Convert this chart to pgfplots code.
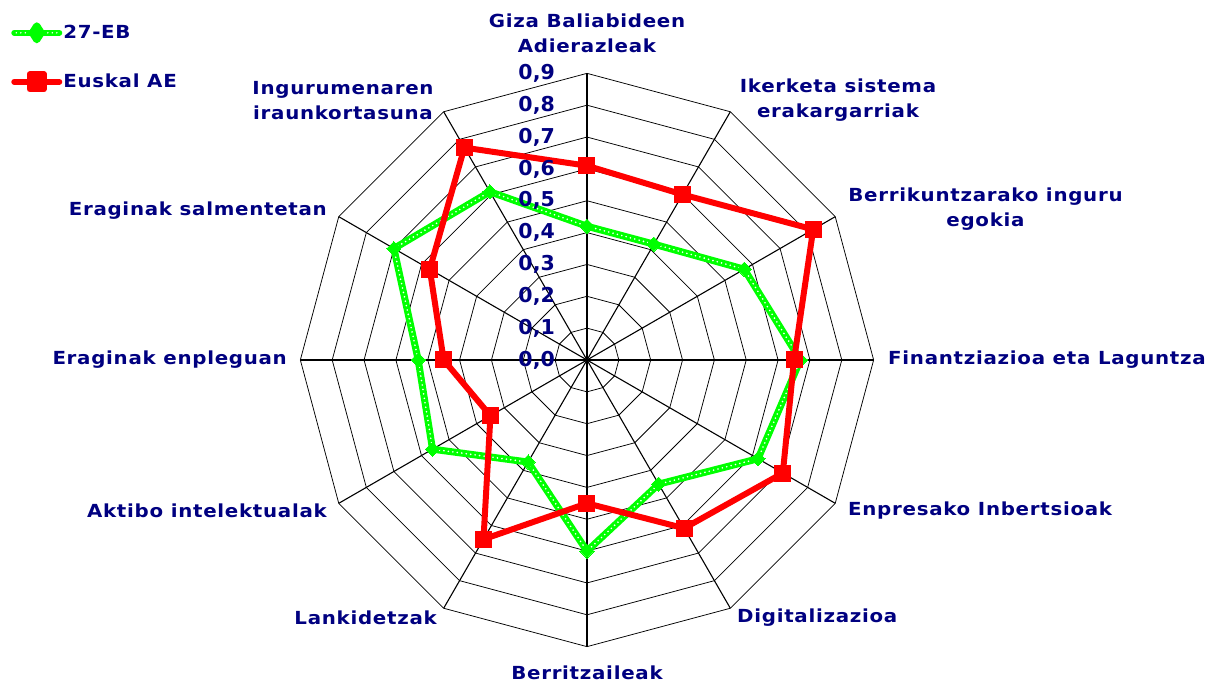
\documentclass[border=0pt]{standalone}
\usepackage{fontspec}
\setmainfont{DejaVu Sans}
\newfontfamily\verd[FakeStretch=1.1, LetterSpace=4]{DejaVu Sans}
\usepackage{pgfplots}
\pgfplotsset{compat=1.18}
\usepgfplotslibrary{polar}
\definecolor{navy}{HTML}{000080}
\definecolor{egreen}{HTML}{00FF00}
\definecolor{ered}{HTML}{FF0000}
\tikzset{
  ring/.style={black, line width=0.75pt},
  spoke/.style={black, line width=1.1pt},
  catlab/.style={text=navy, font=\verd\fontsize{18}{25}\selectfont\bfseries, inner sep=0pt, align=center},
  numlab/.style={text=navy, font=\fontsize{20.5}{24}\selectfont\bfseries, inner sep=0pt, anchor=east},
}
\begin{document}
\begin{tikzpicture}
\path[use as bounding box] (0pt,0pt) rectangle (1216pt,684pt);
\begin{polaraxis}[
  at={(587pt,324pt)}, anchor=center,
  width=573.3pt, height=573.3pt, scale only axis,
  xmin=0, xmax=360, ymin=0, ymax=0.9,
  hide axis, clip=false,
  legend style={draw=none, fill=none, at={(axis description cs:-0.5098,1.0929)}, anchor=north west,
    font=\verd\fontsize{18}{23}\selectfont\bfseries, text=navy, row sep=28pt,
    nodes={inner sep=1pt}},
  legend cell align=left,
]
% grid rings
\pgfplotsinvokeforeach{0.1,0.2,0.3,0.4,0.5,0.6,0.7,0.8,0.9}{
  \draw[ring] (axis cs:0,#1) -- (axis cs:30,#1) -- (axis cs:60,#1) -- (axis cs:90,#1)
    -- (axis cs:120,#1) -- (axis cs:150,#1) -- (axis cs:180,#1) -- (axis cs:210,#1)
    -- (axis cs:240,#1) -- (axis cs:270,#1) -- (axis cs:300,#1) -- (axis cs:330,#1) -- cycle;
}
% spokes
\pgfplotsinvokeforeach{0,30,60,90,120,150,180,210,240,270,300,330}{
  \draw[spoke] (axis cs:#1,0) -- (axis cs:#1,0.9);
}
\fill[black] (axis cs:0,0) circle[radius=2pt];

% 27-EB
\addplot[egreen, line width=7pt, line join=round, mark=none,
  legend image code/.code={
    \draw[egreen, line width=6pt, line cap=round] (0pt,0pt) -- (45pt,0pt);
    \draw[white, line width=1.6pt, dash pattern=on 0pt off 4.5pt, line cap=round] (2pt,0pt) -- (44pt,0pt);
    \fill[egreen] (22.5pt,7pt) -- (27pt,0pt) -- (22.5pt,-7pt) -- (18pt,0pt) -- cycle;
  }] coordinates {
  (90,0.42) (60,0.42) (30,0.57) (0,0.67) (330,0.62) (300,0.45) (270,0.60)
  (240,0.37) (210,0.56) (180,0.53) (150,0.70) (120,0.61) (90,0.42)
};
\addlegendentry{27-EB}
\addplot[white, line width=1.8pt, dash pattern=on 0pt off 4.5pt, line cap=round, mark=none, forget plot] coordinates {
  (90,0.42) (60,0.42) (30,0.57) (0,0.67) (330,0.62) (300,0.45) (270,0.60)
  (240,0.37) (210,0.56) (180,0.53) (150,0.70) (120,0.61) (90,0.42)
};
\addplot[only marks, mark=square*, mark size=5pt, mark options={rotate=45, fill=egreen, draw=egreen, line width=0pt}, forget plot] coordinates {
  (90,0.42) (60,0.42) (30,0.57) (0,0.67) (330,0.62) (300,0.45) (270,0.60)
  (240,0.37) (210,0.56) (180,0.53) (150,0.70) (120,0.61)
};
% Euskal AE
\addplot[ered, line width=6pt, line join=round, mark=square*, mark size=8pt,
  mark options={solid, fill=ered, draw=ered, line width=0pt},
  legend image code/.code={
    \draw[ered, line width=6pt, line cap=round] (0pt,0pt) -- (45pt,0pt);
    \fill[ered] (15.5pt,-7.5pt) rectangle (29.5pt,7.5pt);
  }] coordinates {
  (90,0.61) (60,0.60) (30,0.82) (0,0.65) (330,0.71) (300,0.61) (270,0.45)
  (240,0.65) (210,0.35) (180,0.45) (150,0.57) (120,0.77) (90,0.61)
};
\addlegendentry{Euskal AE}

% radial tick labels
\pgfplotsinvokeforeach{0,1,2,3,4,5,6,7,8,9}{
  \node[numlab] at ([xshift=-32pt]axis cs:90,0.#1) {0,#1};
}
% category labels
\node[catlab, anchor=center] at ([shift={(0pt,327pt)}]axis cs:0,0) {Giza Baliabideen\\Adierazleak};
\node[catlab, anchor=center] at ([shift={(251pt,260pt)}]axis cs:0,0) {Ikerketa sistema\\erakargarriak};
\node[catlab, anchor=center] at ([shift={(398.5pt,151pt)}]axis cs:0,0) {Berrikuntzarako inguru\\egokia};
\node[catlab, anchor=west] at ([shift={(301pt,0pt)}]axis cs:0,0) {Finantziazioa eta Laguntza};
\node[catlab, anchor=west] at ([shift={(261pt,-151pt)}]axis cs:0,0) {Enpresako Inbertsioak};
\node[catlab, anchor=west] at ([shift={(150pt,-258pt)}]axis cs:0,0) {Digitalizazioa};
\node[catlab, anchor=center] at ([shift={(0pt,-313pt)}]axis cs:0,0) {Berritzaileak};
\node[catlab, anchor=east] at ([shift={(-150pt,-258pt)}]axis cs:0,0) {Lankidetzak};
\node[catlab, anchor=east] at ([shift={(-260pt,-151pt)}]axis cs:0,0) {Aktibo intelektualak};
\node[catlab, anchor=east] at ([shift={(-300pt,0pt)}]axis cs:0,0) {Eraginak enpleguan};
\node[catlab, anchor=east] at ([shift={(-260pt,149pt)}]axis cs:0,0) {Eraginak salmentetan};
\node[catlab, anchor=center] at ([shift={(-244pt,259.5pt)}]axis cs:0,0) {Ingurumenaren\\iraunkortasuna};
\end{polaraxis}
\end{tikzpicture}
\end{document}
